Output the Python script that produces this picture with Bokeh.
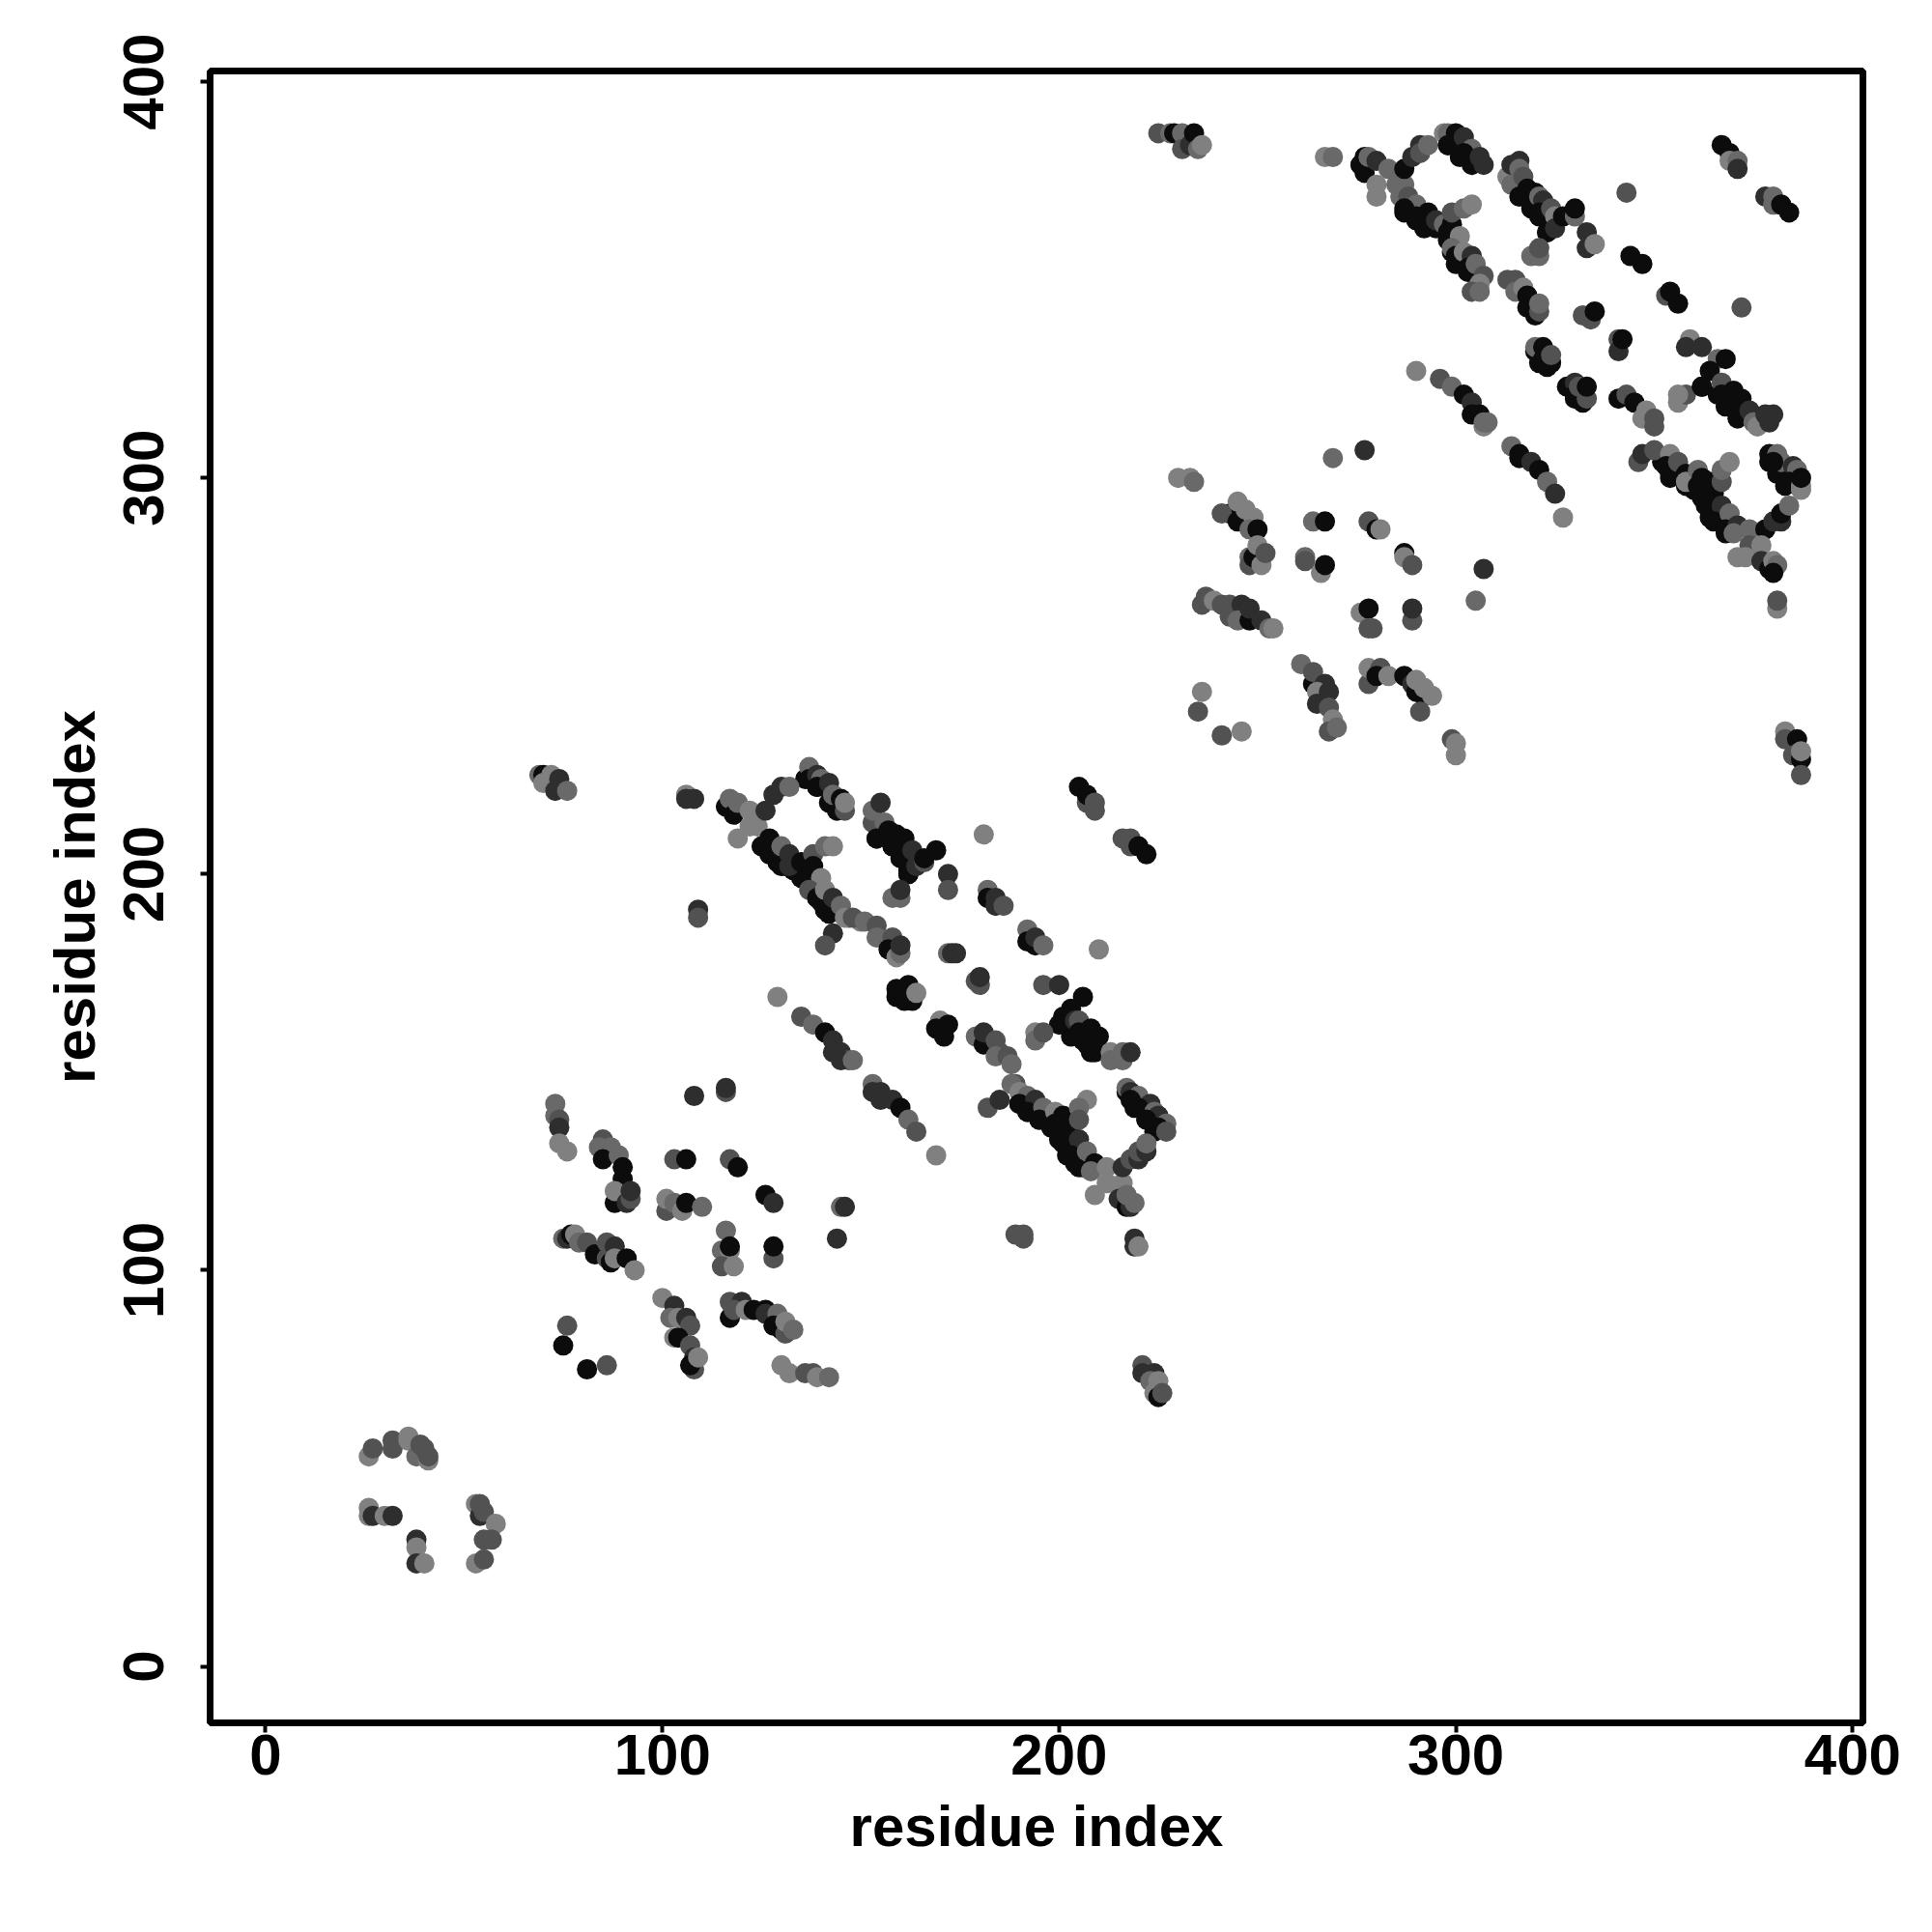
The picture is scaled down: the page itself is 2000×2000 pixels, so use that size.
from bokeh.plotting import figure
from bokeh.models import Range1d, FixedTicker, ColumnDataSource
from bokeh.embed import file_html
from bokeh.resources import INLINE

# shade index: 0 near-black ... 4 mid grey
shade_palette = ["#0c0c0c", "#2e2e2e", "#525252", "#696969", "#808080"]
x_ticks = [0, 100, 200, 300, 400]
y_ticks = [0, 100, 200, 300, 400]

under_x = [125, 127, 129, 131, 133, 135, 137, 138, 139, 140, 141, 142, 154, 158, 160, 162, 162, 203, 206, 208, 204, 190, 192, 195, 198, 200, 202, 204, 206, 287, 290, 292, 295, 298, 299, 300, 303, 319, 321, 323, 362, 366, 368, 371, 363, 364, 366, 368, 352, 354, 358, 360, 362, 379, 381, 383, 217, 219, 222, 224, 136, 139, 142, 144, 276, 277, 298, 301, 304, 159, 161, 163, 320, 321, 323, 328, 330, 332]
under_y = [207, 205, 203, 202, 201, 199, 198, 196, 194, 193, 191, 190, 209, 207, 204, 200, 201, 159, 158, 155, 161, 142, 140, 138, 136, 133, 129, 127, 126, 367, 365, 363, 363, 360, 357, 354, 352, 368, 366, 362, 323, 321, 318, 315, 293, 290, 289, 286, 304, 300, 298, 297, 295, 304, 301, 298, 145, 141, 138, 135, 224, 222, 218, 216, 379, 377, 384, 381, 379, 169, 168, 168, 332, 329, 328, 323, 320, 319]

a_x = [26, 27, 32, 32, 36, 36, 38, 41, 39, 40, 41, 26, 26, 27, 30, 32, 38, 38, 38, 40, 53, 54, 54, 55, 58, 55, 57, 53, 55]
a_y = [53, 55, 57, 55, 58, 57, 53, 52, 56, 55, 53, 40, 38, 38, 38, 38, 32, 30, 26, 26, 41, 38, 41, 39, 36, 32, 32, 26, 27]
a_s = [4, 2, 2, 2, 4, 4, 3, 4, 2, 2, 2, 4, 4, 1, 4, 1, 1, 4, 1, 4, 4, 1, 2, 2, 4, 2, 2, 4, 2]

b_x = [73, 73, 74, 74, 74, 76, 85, 84, 87, 85, 89, 90, 90, 88, 88, 91, 92, 92, 75, 76, 77, 78, 79, 81, 83, 86, 86, 87, 88, 88, 91, 93]
b_y = [142, 139, 138, 136, 132, 130, 133, 131, 131, 128, 129, 126, 123, 117, 120, 117, 118, 120, 108, 108, 109, 109, 107, 107, 104, 107, 103, 102, 106, 103, 103, 100]
b_s = [3, 3, 2, 1, 4, 4, 2, 3, 3, 0, 3, 0, 0, 0, 4, 1, 2, 1, 3, 1, 0, 4, 3, 2, 0, 2, 2, 0, 1, 4, 0, 4]

c_x = [76, 75, 81, 86, 100, 103, 102, 104, 106, 107, 103, 104, 107, 108, 108, 107, 109, 130, 132, 136, 138, 139, 142]
c_y = [86, 81, 75, 76, 93, 91, 88, 88, 88, 86, 83, 83, 81, 75, 78, 76, 78, 76, 74, 74, 74, 73, 73]
c_s = [2, 0, 0, 2, 4, 1, 3, 4, 1, 2, 4, 0, 2, 2, 1, 0, 4, 4, 4, 2, 2, 4, 3]

d_x = [108, 116, 116, 103, 106, 117, 119, 126, 128, 145, 146, 144, 116, 115, 117, 117, 115, 118, 128, 128, 101, 101, 103, 105, 106, 110]
d_y = [144, 145, 146, 128, 128, 128, 126, 119, 117, 116, 116, 108, 110, 105, 105, 106, 101, 101, 103, 106, 115, 118, 117, 115, 117, 116]
d_s = [1, 2, 1, 2, 0, 2, 0, 0, 1, 3, 1, 1, 3, 3, 4, 0, 2, 4, 2, 0, 2, 4, 3, 4, 0, 3]

e_x = [117, 120, 117, 118, 121, 123, 126, 126, 129, 128, 130, 131, 131, 133]
e_y = [92, 92, 88, 90, 90, 90, 90, 89, 89, 86, 85, 84, 87, 85]
e_s = [2, 1, 0, 2, 4, 0, 0, 1, 3, 0, 0, 2, 4, 3]

f_x = [153, 153, 155, 155, 158, 160, 162, 164, 169, 182, 185, 129, 135, 138, 141, 143, 143, 145, 147, 145, 189, 191, 191, 219, 219, 220]
f_y = [147, 145, 145, 143, 143, 141, 138, 135, 129, 141, 143, 169, 164, 162, 160, 158, 155, 155, 153, 153, 109, 109, 108, 108, 106, 106]
f_s = [3, 1, 1, 1, 1, 0, 3, 2, 4, 2, 1, 4, 2, 3, 0, 1, 1, 1, 2, 1, 2, 2, 2, 1, 1, 4]

g_x = [189, 188, 190, 192, 190, 194, 192, 196, 195, 199, 199, 201, 203, 201, 205, 207, 205, 205, 203, 205, 207, 209, 208, 212, 212, 209, 216, 216, 218, 220, 220, 222, 222]
g_y = [147, 147, 145, 144, 142, 143, 140, 141, 138, 140, 137, 139, 135, 132, 133, 143, 141, 138, 129, 126, 130, 127, 125, 126, 122, 119, 122, 126, 128, 128, 130, 130, 132]
g_s = [2, 3, 4, 3, 0, 1, 0, 3, 0, 4, 0, 0, 0, 0, 1, 4, 3, 2, 0, 0, 3, 0, 3, 4, 4, 4, 4, 1, 2, 1, 2, 1, 3]

h_x = [215, 217, 218, 217, 219, 217, 218, 220, 218, 223, 220, 224, 225, 222, 227, 225, 227, 221, 221, 224, 223, 225, 224, 225, 226]
h_y = [118, 116, 116, 119, 117, 146, 145, 144, 143, 142, 141, 140, 139, 138, 137, 136, 135, 76, 74, 74, 72, 72, 69, 68, 69]
h_s = [1, 0, 1, 3, 3, 3, 1, 3, 0, 1, 0, 3, 1, 0, 3, 0, 2, 2, 1, 1, 3, 4, 4, 0, 2]

i_x = [69, 70, 72, 70, 74, 73, 76, 106, 106, 108, 109, 109, 116, 117, 118, 119, 122, 122, 119, 124, 126, 128, 130, 132]
i_y = [225, 225, 225, 223, 224, 221, 221, 220, 219, 219, 191, 189, 217, 219, 215, 218, 216, 212, 209, 212, 216, 220, 222, 222]
i_s = [3, 0, 4, 4, 1, 1, 3, 4, 1, 1, 1, 2, 0, 3, 0, 3, 4, 4, 4, 4, 1, 1, 1, 3]

j_x = [137, 137, 139, 140, 139, 142, 143, 145, 146, 146]
j_y = [227, 224, 225, 224, 222, 223, 220, 219, 216, 218]
j_s = [3, 0, 1, 3, 0, 1, 3, 0, 2, 4]

k_x = [127, 127, 130, 130, 132, 132, 135, 138, 138, 141, 143, 140, 137, 139, 141, 141, 143, 145, 147, 146, 150, 143, 141]
k_y = [209, 205, 207, 202, 205, 202, 203, 205, 202, 207, 207, 199, 196, 194, 196, 191, 194, 192, 189, 189, 188, 185, 182]
k_s = [0, 0, 3, 0, 1, 1, 0, 2, 0, 3, 4, 4, 2, 0, 4, 0, 1, 3, 2, 4, 4, 1, 2]

l_x = [153, 153, 156, 154, 157, 159, 158, 161, 160, 163, 162, 164, 166, 166, 169, 155, 160, 158, 160, 172, 172]
l_y = [213, 216, 213, 209, 211, 210, 207, 209, 205, 206, 200, 202, 203, 204, 206, 218, 194, 194, 196, 200, 196]
l_s = [2, 3, 3, 0, 0, 0, 0, 0, 0, 1, 0, 1, 2, 0, 0, 1, 3, 3, 1, 1, 2]

m_x = [182, 182, 184, 184, 186, 181, 205, 207, 207, 209, 209, 216, 218, 218, 220, 222, 192, 192, 194, 194, 196, 210]
m_y = [196, 194, 194, 192, 192, 210, 222, 218, 220, 216, 218, 209, 209, 207, 207, 205, 186, 183, 182, 184, 182, 181]
m_s = [3, 0, 1, 1, 2, 4, 0, 2, 0, 2, 2, 2, 2, 2, 0, 0, 3, 0, 0, 1, 3, 4]

n_x = [148, 151, 154, 154, 158, 157, 159, 160, 160, 172, 173, 174, 179, 180, 180, 159, 161, 162, 163, 164, 196, 200]
n_y = [189, 188, 187, 184, 184, 181, 179, 180, 182, 180, 180, 180, 173, 172, 174, 171, 169, 172, 169, 170, 172, 172]
n_s = [2, 3, 2, 3, 2, 0, 4, 3, 1, 3, 1, 1, 2, 2, 1, 0, 0, 0, 0, 4, 2, 1]

o_x = [206, 203, 201, 200, 204, 205, 205, 208, 207, 210, 209, 213, 213, 216, 216, 218, 194, 194, 196, 170, 169, 171, 172, 179, 181, 181, 184, 185, 184, 187, 188, 148]
o_y = [169, 166, 164, 162, 163, 163, 160, 161, 157, 159, 155, 155, 153, 155, 153, 155, 160, 158, 160, 163, 161, 159, 162, 159, 157, 160, 158, 155, 154, 154, 152, 153]
o_s = [0, 0, 0, 0, 1, 2, 0, 0, 0, 0, 0, 4, 3, 3, 3, 1, 4, 3, 2, 4, 0, 0, 0, 3, 0, 1, 2, 2, 3, 2, 3, 3]

p_x = [225, 228, 229, 231, 231, 233, 234, 235, 236, 267, 269, 276, 277, 278, 280, 283, 280, 280, 285, 287, 287, 289, 291, 291, 293]
p_y = [387, 387, 387, 387, 383, 384, 387, 383, 384, 381, 381, 379, 381, 381, 380, 378, 374, 371, 374, 374, 378, 381, 384, 382, 384]
p_s = [2, 3, 0, 3, 2, 1, 0, 3, 4, 4, 3, 0, 0, 3, 1, 3, 4, 4, 3, 3, 0, 1, 1, 2, 3]

q_x = [297, 298, 300, 298, 302, 304, 302, 304, 306, 307, 286, 288, 290, 287, 290, 293, 292, 295, 297, 299, 298, 299, 302, 304]
q_y = [387, 387, 387, 384, 386, 383, 382, 380, 381, 379, 371, 371, 369, 368, 366, 367, 365, 365, 364, 364, 362, 367, 368, 369]
q_s = [4, 3, 0, 0, 1, 3, 0, 0, 1, 1, 3, 2, 3, 0, 0, 0, 0, 1, 3, 0, 0, 2, 3, 4]

r_x = [301, 299, 300, 302, 304, 303, 305, 307, 306, 304, 306, 290, 296, 299, 302, 304, 304, 306, 307, 307]
r_y = [361, 358, 356, 357, 356, 353, 354, 351, 349, 347, 347, 327, 325, 323, 321, 319, 316, 316, 313, 314]
r_s = [4, 3, 0, 4, 1, 0, 3, 2, 4, 2, 3, 4, 2, 3, 0, 1, 0, 0, 4, 3]

s_x = [230, 233, 234, 269, 277, 243, 241, 245, 245, 247, 249, 248, 250, 248, 248, 249, 250, 251, 252]
s_y = [300, 300, 299, 305, 307, 291, 291, 294, 289, 292, 290, 287, 287, 280, 278, 280, 283, 278, 281]
s_s = [4, 4, 3, 3, 1, 0, 2, 4, 0, 4, 4, 3, 0, 3, 2, 0, 4, 4, 2]

t_x = [264, 267, 278, 280, 281, 287, 287, 289, 262, 262, 266, 267, 307, 305, 236, 237, 239, 241, 243, 243, 246, 245, 248, 248, 251, 253, 254]
t_y = [289, 289, 289, 287, 287, 281, 280, 278, 280, 279, 276, 278, 277, 269, 268, 270, 269, 268, 265, 268, 268, 264, 264, 267, 264, 262, 262]
t_s = [3, 0, 2, 0, 4, 0, 4, 2, 3, 2, 4, 0, 1, 3, 2, 2, 4, 2, 2, 2, 1, 3, 0, 1, 1, 3, 4]

u_x = [276, 278, 279, 278, 289, 289, 236, 235, 241, 246, 261, 264, 264, 267, 265, 268, 265, 268, 269, 268, 270]
u_y = [266, 267, 262, 262, 264, 267, 246, 241, 235, 236, 253, 248, 251, 248, 246, 246, 243, 242, 239, 236, 237]
u_s = [4, 0, 2, 2, 2, 1, 4, 2, 2, 4, 3, 0, 2, 1, 4, 1, 1, 2, 4, 2, 3]

v_x = [278, 278, 281, 280, 283, 287, 289, 290, 290, 292, 292, 294, 291, 299, 300, 300]
v_y = [248, 252, 252, 250, 250, 250, 248, 246, 249, 245, 247, 245, 241, 234, 230, 233]
v_s = [2, 4, 2, 0, 4, 0, 1, 0, 4, 0, 4, 4, 2, 2, 4, 4]

w_x = [313, 314, 314, 316, 316, 317, 316, 318, 320, 319, 321, 322, 321, 324, 325, 323, 325, 327, 330, 330]
w_y = [376, 379, 374, 380, 378, 376, 371, 373, 372, 369, 371, 370, 367, 368, 366, 362, 363, 366, 366, 368]
w_s = [4, 1, 3, 1, 3, 2, 0, 0, 0, 0, 3, 1, 0, 2, 4, 0, 1, 0, 3, 0]

y_x = [343, 367, 369, 369, 371, 371, 378, 380, 380, 382, 384, 319, 321, 321, 333, 333, 335, 344, 347, 353, 354, 356, 372]
y_y = [372, 384, 382, 380, 380, 378, 371, 371, 369, 369, 367, 356, 356, 358, 358, 362, 359, 356, 354, 346, 347, 344, 343]
y_s = [2, 0, 0, 4, 3, 1, 1, 3, 3, 0, 0, 3, 3, 2, 1, 1, 4, 0, 0, 2, 0, 0, 2]

z_x = [313, 315, 315, 317, 318, 318, 320, 321, 321, 332, 334, 335, 341, 341, 342, 320, 322, 322, 324, 324, 359, 358, 362]
z_y = [350, 350, 347, 348, 346, 343, 341, 342, 344, 341, 340, 342, 335, 332, 335, 333, 330, 333, 329, 331, 335, 333, 333]
z_s = [2, 2, 3, 4, 0, 0, 0, 2, 3, 2, 2, 0, 2, 1, 0, 3, 0, 0, 0, 2, 4, 1, 1]

aa_x = [366, 368, 330, 330, 333, 331, 333, 341, 343, 345, 348, 347, 350, 350, 356, 358, 356]
aa_y = [330, 330, 324, 321, 320, 323, 323, 320, 321, 319, 317, 315, 315, 313, 319, 321, 321]
aa_s = [3, 0, 1, 0, 2, 2, 0, 0, 2, 0, 4, 4, 2, 2, 4, 2, 4]

ab_x = [362, 364, 367, 367, 370, 372, 369, 371, 374, 375, 376, 378, 380, 379, 314, 316, 308, 316, 319, 321, 323, 325, 327]
ab_y = [323, 327, 324, 321, 322, 320, 318, 316, 317, 314, 313, 316, 316, 314, 308, 306, 314, 305, 304, 302, 299, 296, 290]
ab_s = [0, 0, 2, 0, 0, 0, 0, 0, 1, 3, 4, 1, 1, 1, 3, 0, 3, 0, 1, 0, 3, 1, 4]

ac_x = [346, 347, 350, 354, 353, 354, 356, 358, 358, 361, 361, 362, 364, 365, 367, 367, 369, 364, 367, 365, 369, 368, 371, 370, 374, 374]
ac_y = [304, 306, 307, 306, 303, 301, 304, 301, 299, 302, 298, 300, 299, 296, 299, 302, 304, 293, 293, 289, 291, 287, 288, 286, 287, 283]
ac_s = [2, 1, 2, 4, 0, 0, 2, 0, 4, 3, 0, 0, 0, 0, 2, 3, 4, 0, 1, 0, 3, 0, 1, 3, 3, 2]

ad_x = [371, 373, 378, 380, 382, 382, 384, 377, 377, 379, 380, 381, 380, 381, 381]
ad_y = [280, 280, 287, 289, 289, 291, 293, 283, 279, 277, 279, 278, 276, 267, 269]
ad_s = [4, 4, 0, 1, 1, 0, 3, 4, 1, 0, 4, 3, 0, 4, 2]

ae_x = [379, 381, 382, 380, 385, 386, 384, 387, 387, 387, 383, 383, 386, 385, 387, 387, 387]
ae_y = [306, 306, 304, 304, 303, 302, 299, 297, 298, 300, 236, 234, 234, 230, 229, 231, 225]
ae_s = [0, 3, 3, 0, 1, 3, 0, 4, 4, 0, 4, 2, 0, 2, 0, 4, 2]

under_s = [0] * len(under_x)

clusters = [(under_x, under_y, under_s),
            (a_x, a_y, a_s), (b_x, b_y, b_s), (c_x, c_y, c_s), (d_x, d_y, d_s), (e_x, e_y, e_s),
            (f_x, f_y, f_s), (g_x, g_y, g_s), (h_x, h_y, h_s), (i_x, i_y, i_s), (j_x, j_y, j_s),
            (k_x, k_y, k_s), (l_x, l_y, l_s), (m_x, m_y, m_s), (n_x, n_y, n_s), (o_x, o_y, o_s),
            (p_x, p_y, p_s), (q_x, q_y, q_s), (r_x, r_y, r_s), (s_x, s_y, s_s), (t_x, t_y, t_s),
            (u_x, u_y, u_s), (v_x, v_y, v_s), (w_x, w_y, w_s), (y_x, y_y, y_s), (z_x, z_y, z_s),
            (aa_x, aa_y, aa_s), (ab_x, ab_y, ab_s), (ac_x, ac_y, ac_s), (ad_x, ad_y, ad_s), (ae_x, ae_y, ae_s)]

p = figure(width=1983, height=1983, frame_width=1711, frame_height=1710,
           x_range=Range1d(-14.0, 402.6), y_range=Range1d(-14.25, 402.7),
           output_backend="svg", toolbar_location=None,
           min_border_left=217, min_border_top=73, min_border_right=55, min_border_bottom=200,
           background_fill_color="white", border_fill_color="white")
p.grid.visible = False
p.outline_line_color = "black"
p.outline_line_width = 7

for cx, cy, cs in clusters:
    src = ColumnDataSource(dict(x=cx, y=cy, c=[shade_palette[v] for v in cs]))
    p.scatter("x", "y", source=src, size=21, marker="circle", fill_color="c", line_color=None)

for ax, ticks in ((p.xaxis[0], x_ticks), (p.yaxis[0], y_ticks)):
    ax.ticker = FixedTicker(ticks=ticks)
    ax.axis_line_color = None
    ax.major_tick_line_color = "black"
    ax.major_tick_line_width = 4
    ax.major_tick_in = 0
    ax.major_tick_out = 10
    ax.minor_tick_line_color = None
    ax.major_label_text_font = "Liberation Sans"
    ax.major_label_text_font_style = "bold"
    ax.major_label_text_font_size = "60px"
    ax.major_label_text_color = "black"
    ax.axis_label = "residue index"
    ax.axis_label_text_font = "Liberation Sans"
    ax.axis_label_text_font_style = "bold"
    ax.axis_label_text_font_size = "60px"
    ax.axis_label_text_color = "black"

p.yaxis[0].major_label_orientation = "vertical"
p.xaxis[0].major_label_standoff = 2
p.yaxis[0].major_label_standoff = 38
p.xaxis[0].axis_label_standoff = 17
p.yaxis[0].axis_label_standoff = 15

open("out.html", "w").write(file_html(p, INLINE))
